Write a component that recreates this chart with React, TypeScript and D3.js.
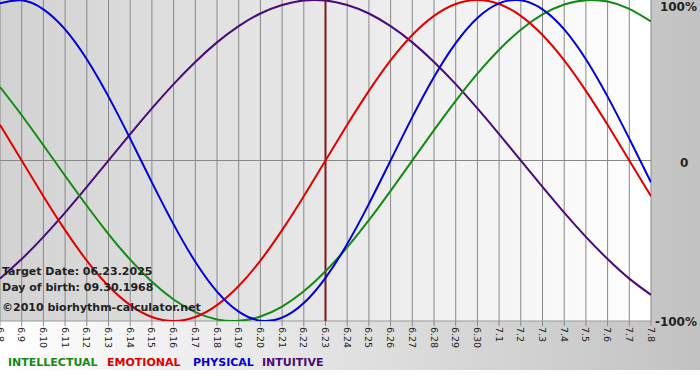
import React from "react";
import * as d3 from "d3";

const dayLabels = ["6.8","6.9","6.10","6.11","6.12","6.13","6.14","6.15","6.16","6.17","6.18","6.19","6.20","6.21","6.22","6.23","6.24","6.25","6.26","6.27","6.28","6.29","6.30","7.1","7.2","7.3","7.4","7.5","7.6","7.7","7.8"];

const physical = [0.979,0.998,0.942,0.817,0.631,0.398,0.136,-0.136,-0.398,-0.631,-0.817,-0.942,-0.998,-0.979,-0.888,-0.731,-0.52,-0.27,0,0.27,0.52,0.731,0.888,0.979,0.998,0.942,0.817,0.631,0.398,0.136,-0.136];
const emotional = [0.2225,0,-0.2225,-0.434,-0.624,-0.782,-0.901,-0.975,-1,-0.975,-0.901,-0.782,-0.624,-0.434,-0.2225,0,0.2225,0.434,0.624,0.782,0.901,0.975,1,0.975,0.901,0.782,0.624,0.434,0.2225,0,-0.2225];
const intellectual = [0.458,0.282,0.095,-0.095,-0.282,-0.458,-0.618,-0.756,-0.866,-0.945,-0.99,-0.999,-0.972,-0.91,-0.815,-0.69,-0.541,-0.372,-0.189,0,0.189,0.372,0.541,0.69,0.815,0.91,0.972,0.999,0.99,0.945,0.866];
const intuitive = [-0.736,-0.614,-0.476,-0.325,-0.165,0,0.165,0.325,0.476,0.614,0.736,0.837,0.916,0.969,0.997,0.997,0.969,0.916,0.837,0.736,0.614,0.476,0.325,0.165,0,-0.165,-0.325,-0.476,-0.614,-0.736,-0.837];

const targetIndex = 15;
const yTickLabels = ["100%", "0", "-100%"];
const yTickValues = [1, 0, -1];
const infoLines = ["Target Date: 06.23.2025", "Day of birth: 09.30.1968"];
const copyright = "\u00a92010 biorhythm-calculator.net";
const legendNames = ["INTELLECTUAL", "EMOTIONAL", "PHYSICAL", "INTUITIVE"];
const legendColors = ["#138a13", "#e00000", "#0000d8", "#4b0a7a"];

export default function App() {
  const W = 700, H = 380;
  const plotW = 651, plotH = 321;
  const x = d3.scaleLinear().domain([0, dayLabels.length - 1]).range([0, plotW]);
  const y = d3.scaleLinear().domain([-1, 1]).range([plotH, 0]);
  const line = d3.line<number>().x((_, i) => x(i)).y((d) => y(d)).curve(d3.curveNatural);
  const series = [
    { data: intuitive, color: legendColors[3] },
    { data: intellectual, color: legendColors[0] },
    { data: emotional, color: legendColors[1] },
    { data: physical, color: legendColors[2] },
  ];
  const legendX = [8, 107, 193, 262];
  const font = "'DejaVu Sans', Verdana, sans-serif";
  return (
    <svg width={W} height={H} style={{ position: "fixed", left: 0, top: 0 }} fontFamily={font}>
      <defs>
        <linearGradient id="outer" x1="0" x2="1" y1="0" y2="0">
          <stop offset="0" stopColor="#ffffff" />
          <stop offset="1" stopColor="#c2c2c2" />
        </linearGradient>
        <linearGradient id="plotbg" x1="0" x2="1" y1="0" y2="0">
          <stop offset="0" stopColor="#d2d2d2" />
          <stop offset="1" stopColor="#ffffff" />
        </linearGradient>
        <clipPath id="clip">
          <rect x={0} y={0} width={plotW} height={plotH} />
        </clipPath>
      </defs>
      <rect x={0} y={0} width={W} height={H} fill="#ffffff" />
      <rect x={0} y={0} width={W} height={370} fill="url(#outer)" />
      <rect x={0} y={0} width={plotW} height={plotH} fill="url(#plotbg)" />
      {dayLabels.map((d, i) => (
        <line key={"g" + i} x1={x(i)} x2={x(i)} y1={0} y2={plotH + 5} stroke="#888" strokeWidth={1} />
      ))}
      <line x1={0} x2={plotW} y1={y(0)} y2={y(0)} stroke="#888" strokeWidth={1} />
      <line x1={0} x2={plotW} y1={plotH} y2={plotH} stroke="#999" strokeWidth={1} />
      <line x1={x(targetIndex)} x2={x(targetIndex)} y1={0} y2={plotH} stroke="#7a1a1a" strokeWidth={2} />
      <g clipPath="url(#clip)">
        {series.map((s, k) => (
          <path key={k} d={line(s.data) || ""} fill="none" stroke={s.color} strokeWidth={2} />
        ))}
      </g>
      {dayLabels.map((d, i) => (
        <text key={"t" + i} transform={`translate(${x(i) - 3.5},${plotH + 6}) rotate(90)`} fontSize={9.5} fill="#222">
          {d}
        </text>
      ))}
      {yTickValues.map((v, i) => (
        <text key={"y" + i} x={v === 0 ? 680 : 697} y={y(v) + (v === 1 ? 11 : v === -1 ? 5 : 6)} fontSize={12} fontWeight="bold" fill="#222" textAnchor={v === 0 ? "start" : "end"}>
          {yTickLabels[i]}
        </text>
      ))}
      {infoLines.map((t, i) => (
        <text key={"i" + i} x={2} y={275 + i * 16} fontSize={11} fontWeight="bold" fill="#222">{t}</text>
      ))}
      <text x={2} y={311} fontSize={11} fontWeight="bold" fill="#222">{copyright}</text>
      {legendNames.map((n, i) => (
        <text key={"l" + i} x={legendX[i]} y={366} fontSize={11} fontWeight="bold" fill={legendColors[i]}>{n}</text>
      ))}
    </svg>
  );
}
